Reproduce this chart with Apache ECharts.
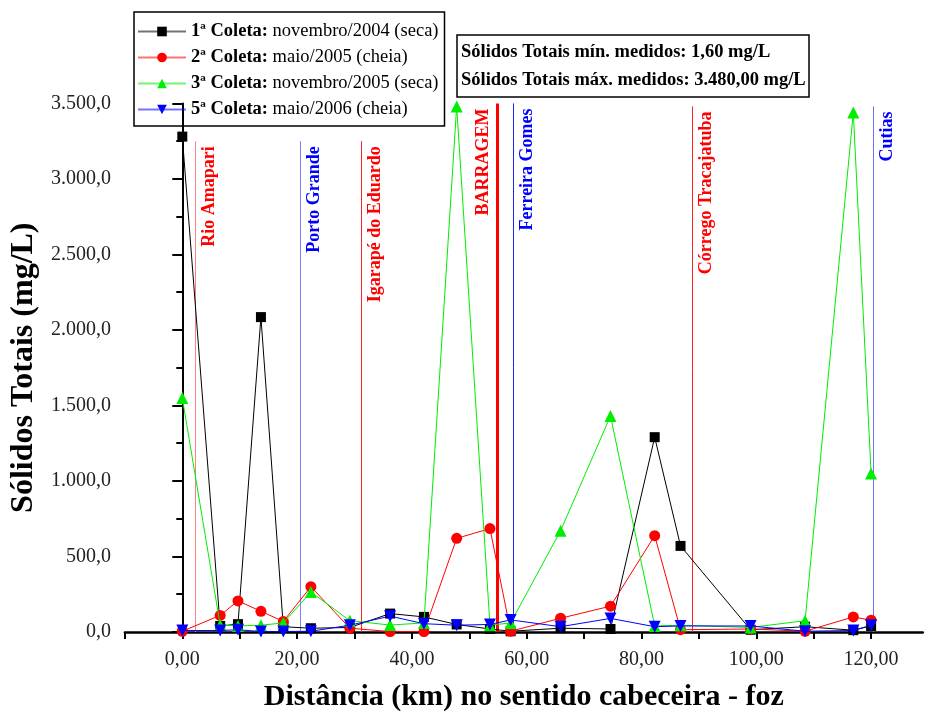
<!DOCTYPE html>
<html>
<head>
<meta charset="utf-8">
<script src="https://cdn.jsdelivr.net/npm/echarts@6/dist/echarts.min.js"></script>
<style>
html,body{margin:0;padding:0;background:#fff;overflow:hidden;}
#chart{width:925px;height:717px;}
</style>
</head>
<body>
<div id="chart"></div>
<script>
// ---- data ----
var distances = [0, 6.6, 9.7, 13.7, 17.6, 22.4, 29.2, 36.2, 42.1, 47.8, 53.6, 57.2, 65.9, 74.6, 82.3, 86.8, 99.0, 108.5, 116.9, 120.0];
var coleta1 = [3280, 40, 52, 2085, 35, 25, 30, 122, 100, 50, 20, 5, 25, 20, 1290, 570, 15, 35, 12, 40];
var coleta2 = [5, 110, 206, 137, 70, 300, 25, 3, 3, 620, 685, 5, 91, 171, 638, 15, 20, 5, 100, 78];
var coleta3 = [1550, 46, 40, 45, 60, 265, 75, 46, 60, 3480, 45, 60, 670, 1430, 40, 45, 30, 75, 3440, 1050];
var coleta5 = [10, 10, 15, 3, 3, 5, 45, 105, 55, 45, 50, 80, 35, 90, 35, 40, 40, 5, 10, 45];
var seriesNames = [
  '1ª Coleta: novembro/2004 (seca)',
  '2ª Coleta: maio/2005 (cheia)',
  '3ª Coleta: novembro/2005 (seca)',
  '5ª Coleta: maio/2006 (cheia)'
];
var refNames = ['Rio Amapari', 'Porto Grande', 'Igarapé do Eduardo', 'BARRAGEM', 'Ferreira Gomes', 'Córrego Tracajatuba', 'Cutias'];
var refX = [2.2, 20.6, 31.2, 54.9, 57.7, 88.9, 120.4];
var refTop = [3250, 3250, 3250, 3500, 3500, 3480, 3480];
var infoLines = [['Sólidos Totais mín. medidos:', '1,60 mg/L'], ['Sólidos Totais máx. medidos:', '3.480,00 mg/L']];
var yTitle = 'Sólidos Totais (mg/L)';
var xTitle = 'Distância (km) no sentido cabeceira - foz';

// ---- styles ----
var FONT = '"Liberation Serif", "Times New Roman", serif';
var seriesColors = ['#000000', '#ff0000', '#00ee00', '#0000ff'];
var seriesSymbols = ['rect', 'circle', 'triangle', 'triangle'];
var seriesSymbolSizes = [10, 11, 12, 12];
var seriesRotate = [0, 0, 0, 180];
var refLineColors = ['#ff8080', '#8080ff', '#ff2020', '#ff0000', '#2020ff', '#ff2020', '#7070ff'];
var refLabelColors = ['#ff0000', '#0000ff', '#ff0000', '#ff0000', '#0000ff', '#ff0000', '#0000ff'];
var refWidths = [1, 1, 1, 3, 1, 1, 1];
var refLeftSide = [false, false, false, true, false, false, false];

function pair(xs, ys) { return xs.map(function (x, i) { return [x, ys[i]]; }); }
function thousands(n) { return String(n).replace(/\B(?=(\d{3})+(?!\d))/g, '.'); }

var dataSets = [coleta1, coleta2, coleta3, coleta5];
var series = dataSets.map(function (d, i) {
  return {
    name: seriesNames[i],
    type: 'line',
    data: pair(distances, d),
    symbol: seriesSymbols[i],
    symbolSize: seriesSymbolSizes[i],
    symbolRotate: seriesRotate[i],
    showAllSymbol: true,
    color: seriesColors[i],
    lineStyle: { width: 1, color: seriesColors[i] },
    itemStyle: { color: seriesColors[i] },
    z: 10 + i,
    animation: false
  };
});

refNames.forEach(function (nm, i) {
  series.push({
    name: 'ref' + i,
    type: 'line',
    data: [],
    silent: true,
    animation: false,
    z: 5,
    markLine: {
      silent: true,
      symbol: ['none', 'none'],
      animation: false,
      lineStyle: { type: 'solid', color: refLineColors[i], width: refWidths[i] },
      label: {
        show: true,
        formatter: nm,
        position: refLeftSide[i] ? 'insideEndTop' : 'insideEndBottom',
        distance: 5,
        color: refLabelColors[i],
        fontFamily: FONT,
        fontWeight: 'bold',
        fontSize: 18
      },
      emphasis: { disabled: true },
      data: [[{ coord: [refX[i], 0] }, { coord: [refX[i], refTop[i]] }]]
    }
  });
});

var infoText = infoLines.map(function (l) { return '{b|' + l[0] + '} {n|' + l[1] + '}'; }).join('\n');

var option = {
  backgroundColor: '#fff',
  animation: false,
  title: {
    text: infoText,
    left: 457,
    top: 35,
    borderColor: '#000',
    borderWidth: 1.5,
    padding: [3, 4, 3, 4],
    textStyle: {
      fontFamily: FONT, fontSize: 18.5, color: '#000', lineHeight: 28,
      rich: {
        b: { fontFamily: FONT, fontSize: 18.5, fontWeight: 'bold', color: '#000', lineHeight: 28 },
        n: { fontFamily: FONT, fontSize: 18.5, color: '#000', lineHeight: 28 }
      }
    }
  },
  legend: {
    data: seriesNames.map(function (n) { return { name: n, lineStyle: { opacity: 0.55 } }; }),
    orient: 'vertical',
    left: 134,
    top: 12,
    padding: [10, 6, 7, 3],
    itemWidth: 48,
    itemHeight: 12,
    itemGap: 7,
    borderColor: '#000',
    borderWidth: 1.5,
    formatter: function (name) {
      var k = name.indexOf(':');
      return '{b|' + name.slice(0, k + 1) + '} {n|' + name.slice(k + 2) + '}';
    },
    textStyle: {
      fontFamily: FONT, fontSize: 18.5, color: '#000',
      rich: {
        b: { fontFamily: FONT, fontSize: 18.5, fontWeight: 'bold', color: '#000' },
        n: { fontFamily: FONT, fontSize: 18.5, color: '#000' }
      }
    }
  },
  grid: { left: 124, right: 2.25, top: 103.4, bottom: 73, containLabel: false },
  xAxis: {
    type: 'value',
    min: -10,
    max: 129,
    interval: 10,
    name: xTitle,
    nameLocation: 'middle',
    nameGap: 50,
    nameTextStyle: { fontFamily: FONT, fontSize: 30, fontWeight: 'bold', color: '#000' },
    axisLine: { show: true, onZero: false, lineStyle: { color: '#000', width: 2.5 } },
    axisTick: { show: true, length: 7, lineStyle: { color: '#000', width: 2 } },
    axisLabel: {
      fontFamily: FONT, fontSize: 20, color: '#222', margin: 18,
      showMaxLabel: false,
      formatter: function (v) { return (v % 20 === 0) ? v.toFixed(2).replace('.', ',') : ''; }
    },
    splitLine: { show: false }
  },
  yAxis: {
    type: 'value',
    min: 0,
    max: 3500,
    interval: 500,
    name: yTitle,
    nameLocation: 'middle',
    nameGap: 74,
    nameTextStyle: { fontFamily: FONT, fontSize: 32, fontWeight: 'bold', color: '#000' },
    axisLine: { show: true, lineStyle: { color: '#000', width: 2 } },
    axisTick: { show: true, length: 10, lineStyle: { color: '#000', width: 2 } },
    minorTick: { show: true, splitNumber: 2, length: 6, lineStyle: { color: '#000', width: 2 } },
    axisLabel: {
      fontFamily: FONT, fontSize: 20, color: '#222', margin: 14,
      formatter: function (v) { return thousands(v) + ',0'; }
    },
    splitLine: { show: false }
  },
  series: series
};

var chart = echarts.init(document.getElementById('chart'), null, { renderer: 'canvas' });
chart.setOption(option);
</script>
</body>
</html>
